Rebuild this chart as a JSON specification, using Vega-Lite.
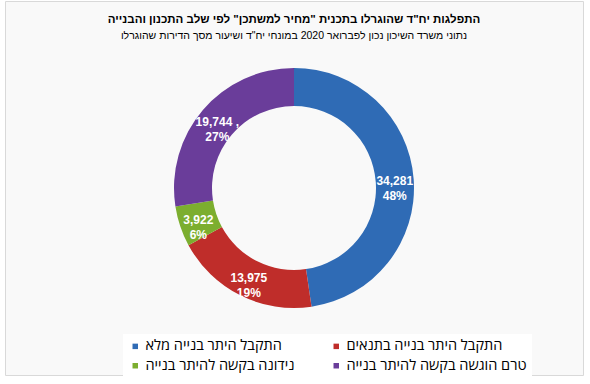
{
  "$schema": "https://vega.github.io/schema/vega-lite/v6.json",
  "width": 578,
  "height": 374,
  "autosize": {"type": "none"},
  "padding": {"left": 5, "top": 1, "right": 7, "bottom": 9},
  "background": "white",
  "view": {"fill": "#f9f9f9", "stroke": "#d9d9d9", "strokeWidth": 1},
  "title": {
    "text": "התפלגות יח\"ד שהוגרלו בתכנית \"מחיר למשתכן\" לפי שלב התכנון והבנייה",
    "subtitle": "נתוני משרד השיכון נכון לפברואר 2020 במונחי יח\"ד ושיעור מסך הדירות שהוגרלו",
    "anchor": "middle",
    "frame": "group",
    "orient": "top",
    "offset": -40,
    "font": "Liberation Sans",
    "fontSize": 11.5,
    "fontWeight": "bold",
    "color": "#000000",
    "subtitleFont": "Liberation Sans",
    "subtitleFontSize": 10.5,
    "subtitleColor": "#000000",
    "subtitlePadding": 5
  },
  "data": {
    "values": [
      {"category": "התקבל היתר בנייה מלא", "units": 34281, "label": "34,281\n48%", "o": 1},
      {"category": "התקבל היתר בנייה בתנאים", "units": 13975, "label": "13,975\n19%", "o": 2},
      {"category": "נידונה בקשה להיתר בנייה", "units": 3922, "label": "3,922\n6%", "o": 3},
      {"category": "טרם הוגשה בקשה להיתר בנייה", "units": 19744, "label": "19,744 ,\n27%", "o": 4}
    ]
  },
  "encoding": {
    "theta": {"field": "units", "type": "quantitative", "stack": true},
    "order": {"field": "o", "type": "quantitative"}
  },
  "layer": [
    {
      "mark": {"type": "arc", "outerRadius": 120, "innerRadius": 82},
      "encoding": {
        "color": {
          "field": "category",
          "type": "nominal",
          "scale": {
            "domain": ["התקבל היתר בנייה מלא", "התקבל היתר בנייה בתנאים", "נידונה בקשה להיתר בנייה", "טרם הוגשה בקשה להיתר בנייה"],
            "range": ["#2f6bb5", "#bf2d2a", "#7cae2f", "#6a3d9a"]
          },
          "legend": {
            "title": null,
            "orient": "none",
            "legendX": 118,
            "legendY": 333,
            "direction": "horizontal",
            "columns": 2,
            "symbolType": "square",
            "symbolSize": 30,
            "symbolStrokeWidth": 0,
            "labelFont": "Open Sans",
            "labelFontSize": 14.5,
            "labelColor": "#000000",
            "labelOffset": 3,
            "labelLimit": 300,
            "fillColor": "white",
            "padding": 5,
            "rowPadding": 4.5,
            "columnPadding": 34
          }
        }
      }
    },
    {
      "mark": {
        "type": "text",
        "radius": 101,
        "font": "Liberation Sans",
        "fontWeight": "bold",
        "fontSize": 12,
        "fill": "white",
        "lineBreak": "\n",
        "lineHeight": 15,
        "align": "center",
        "baseline": "middle"
      },
      "encoding": {"text": {"field": "label"}}
    }
  ]
}
